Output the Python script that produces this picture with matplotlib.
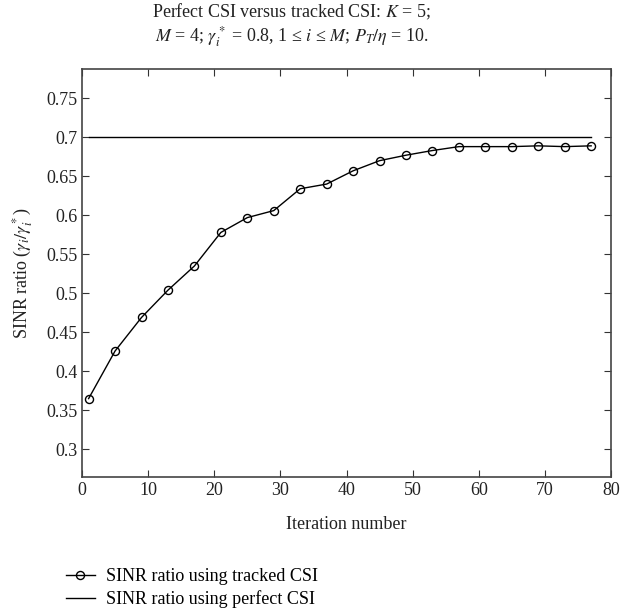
import matplotlib.pyplot as plt

# data
iterations = [1, 5, 9, 13, 17, 21, 25, 29, 33, 37, 41, 45, 49, 53, 57, 61, 65, 69, 73, 77]
tracked_ratio = [0.365, 0.426, 0.469, 0.504, 0.535, 0.578, 0.597, 0.606, 0.634, 0.640,
                 0.657, 0.670, 0.677, 0.683, 0.688, 0.688, 0.688, 0.689, 0.688, 0.689]
perfect_ratio = [0.7, 0.7]
perfect_iter = [1, 77]

plt.rcParams['font.family'] = ['Liberation Serif', 'DejaVu Serif']
plt.rcParams['mathtext.fontset'] = 'stix'

fig = plt.figure(figsize=(6.22, 6.15), dpi=100)
ax = fig.add_axes([82 / 622, 1 - 477 / 615, 529 / 622, 408 / 615])

l1, = ax.plot(iterations, tracked_ratio, color='k', lw=1.0, marker='o',
              markersize=5.8, markerfacecolor='none', markeredgewidth=1.0)
l2, = ax.plot(perfect_iter, perfect_ratio, color='k', lw=1.0)

ax.set_xlim(0, 80)
ax.set_ylim(0.2645, 0.7875)
ax.set_xticks(range(0, 81, 10))
ax.set_yticks([0.3, 0.35, 0.4, 0.45, 0.5, 0.55, 0.6, 0.65, 0.7, 0.75])
ax.set_yticklabels(['0.3', '0.35', '0.4', '0.45', '0.5', '0.55', '0.6', '0.65', '0.7', '0.75'])
ax.tick_params(direction='in', top=True, right=True, labelsize=13, length=5, color='#333333',
               labelcolor='#222222')
for s in ax.spines.values():
    s.set_linewidth(1.2)
    s.set_color('#444444')

ax.set_xlabel('Iteration number', fontsize=13, color='#222222', labelpad=12)
ax.set_ylabel(r'SINR ratio ($\gamma_i/\gamma_i^*$)', fontsize=13, color='#222222', labelpad=8)

fig.text(292 / 622, 1 - 12 / 615, 'Perfect CSI versus tracked CSI: $K$ = 5;',
         ha='center', va='center', fontsize=13, color='#222222')
fig.text(292 / 622, 1 - 37 / 615,
         '$M$ = 4; $\\gamma_i^*$ = 0.8, 1 \u2264 $i$ \u2264 $M$; $P_T/\\eta$ = 10.',
         ha='center', va='center', fontsize=13, color='#222222')

fig.legend([l1, l2], ['SINR ratio using tracked CSI', 'SINR ratio using perfect CSI'],
           loc='upper left', bbox_to_anchor=(66 / 622, 1 - 568 / 615), frameon=False,
           fontsize=13, handlelength=1.6, handletextpad=0.6, labelspacing=0.3,
           borderaxespad=0, borderpad=0)

fig.savefig('out.png', dpi=100)
